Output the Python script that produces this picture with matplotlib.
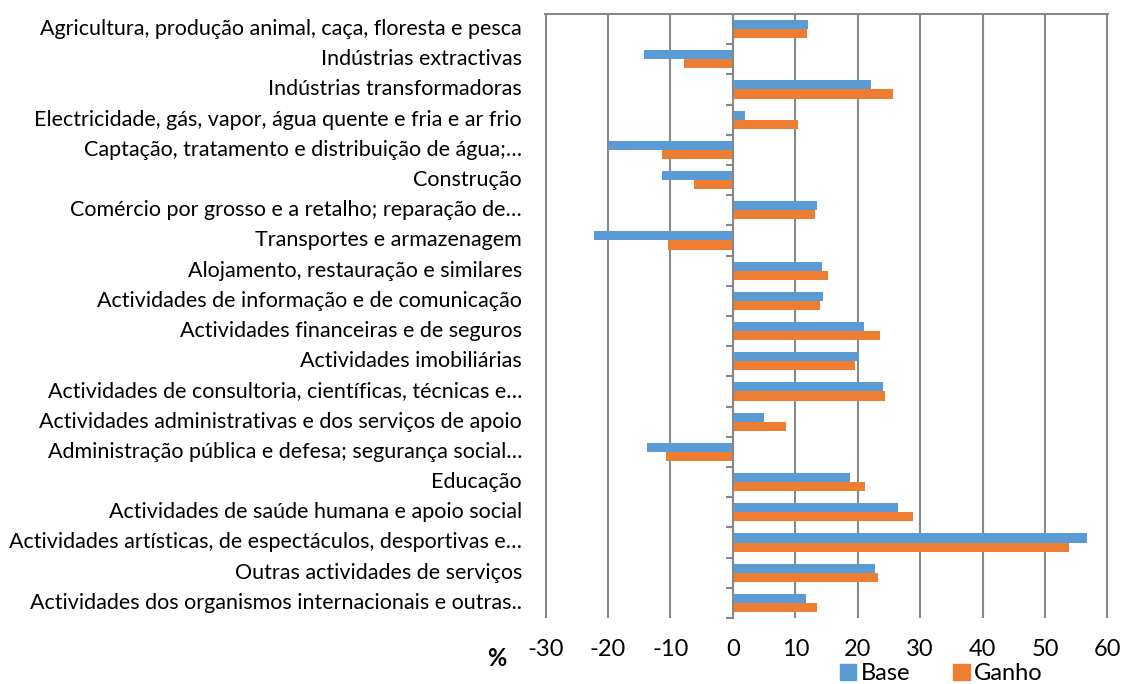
import numpy as np
import matplotlib.pyplot as plt
import matplotlib.transforms as mtransforms
from matplotlib.patches import Patch

plt.rcParams['font.family'] = ['Lato', 'DejaVu Sans']

categories = [
    "Agricultura, produção animal, caça, floresta e pesca",
    "Indústrias extractivas",
    "Indústrias transformadoras",
    "Electricidade, gás, vapor, água quente e fria e ar frio",
    "Captação, tratamento e distribuição de água;…",
    "Construção",
    "Comércio por grosso e a retalho; reparação de…",
    "Transportes e armazenagem",
    "Alojamento, restauração e similares",
    "Actividades de informação e de comunicação",
    "Actividades financeiras e de seguros",
    "Actividades imobiliárias",
    "Actividades de consultoria, científicas, técnicas e…",
    "Actividades administrativas e dos serviços de apoio",
    "Administração pública e defesa; segurança social…",
    "Educação",
    "Actividades de saúde humana e apoio social",
    "Actividades artísticas, de espectáculos, desportivas e…",
    "Outras actividades de serviços",
    "Actividades dos organismos internacionais e outras..",
]
base = [12.1, -14.3, 22.1, 1.9, -19.9, -11.4, 13.4, -22.3, 14.2, 14.5,
        21.0, 20.2, 24.1, 5.0, -13.7, 18.8, 26.4, 56.8, 22.7, 11.7]
ganho = [11.8, -7.9, 25.7, 10.4, -11.3, -6.3, 13.1, -10.4, 15.2, 14.0,
         23.5, 19.5, 24.3, 8.5, -10.7, 21.2, 28.8, 53.9, 23.3, 13.5]
xticks = [-30, -20, -10, 0, 10, 20, 30, 40, 50, 60]

blue = '#5B9BD5'
orange = '#ED7D31'
grid = '#888888'

fig = plt.figure(figsize=(11.26, 6.84), dpi=100)
ax = fig.add_axes([545 / 1126, 1 - 618 / 684, 563 / 1126, 604 / 684])

y = np.arange(len(categories))
h = 0.3
ax.barh(y - h / 2, base, height=h, color=blue, zorder=3)
ax.barh(y + h / 2, ganho, height=h, color=orange, zorder=3)

ax.set_xlim(-30.1, 60.1)
ax.set_ylim(len(categories) - 0.5, -0.5)

ax.set_xticks(xticks)
ax.set_xticklabels([str(v) for v in xticks], fontsize=17)
ax.tick_params(axis='x', length=0, pad=15)
ax.grid(axis='x', color=grid, linewidth=1.5, zorder=0)
ax.set_axisbelow(True)

# vertical axis sits at zero, with marks between categories
ax.spines['left'].set_position(('data', 0))
ax.spines['left'].set_color(grid)
ax.spines['left'].set_linewidth(1.5)
ax.spines['left'].set_zorder(4)
ax.spines['top'].set_color(grid)
ax.spines['top'].set_linewidth(1.5)
ax.spines['right'].set_visible(False)
ax.spines['bottom'].set_visible(False)
ax.set_yticks([])
ax.set_yticks(np.arange(len(categories) + 1) - 0.5, minor=True)
ax.tick_params(axis='y', which='minor', length=5, width=1.5, color=grid, direction='out')

trans = mtransforms.blended_transform_factory(ax.transAxes, ax.transData)
for i, lab in enumerate(categories):
    ax.text(-0.041, i, lab, transform=trans, ha='right', va='center', fontsize=15.5)

fig.text(497 / 1126, 1 - 659 / 684, '%', fontsize=17, fontweight='bold', ha='center', va='center')

handles = [Patch(color=blue, label='Base'), Patch(color=orange, label='Ganho')]
fig.legend(handles=handles, loc='center', bbox_to_anchor=(0.836, 0.015), ncol=2,
           frameon=False, fontsize=17, handlelength=0.7, handleheight=0.7,
           handletextpad=0.2, columnspacing=1.8, borderpad=0)

fig.savefig('out.png', dpi=100)
